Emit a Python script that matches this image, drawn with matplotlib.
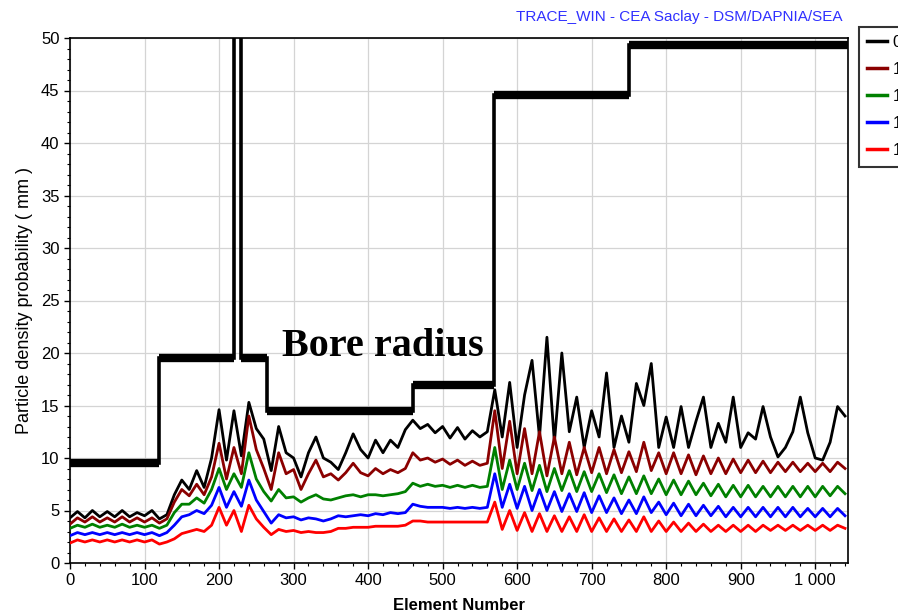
import numpy as np
import matplotlib
matplotlib.use("Agg")
import matplotlib.pyplot as plt
from matplotlib.ticker import MultipleLocator, FuncFormatter

plt.rcParams['font.family'] = ['Liberation Sans', 'DejaVu Sans']

# ---------------- data ----------------
elements = np.arange(0, 1041, 10)

black = [4.3, 4.9, 4.3, 5.0, 4.4, 4.9, 4.4, 5.0, 4.4, 4.8, 4.5, 5.0,
         4.2, 4.6, 6.5, 7.9, 7.0, 8.8, 7.2, 10.0, 14.6, 9.8, 14.5, 10.2,
         15.3, 12.8, 11.8, 8.8, 13.0, 10.5, 10.0, 8.2, 10.5, 12.0, 10.0, 9.6,
         8.9, 10.5, 12.3, 10.8, 10.0, 11.7, 10.5, 11.7, 11.0, 12.7, 13.6, 12.8,
         13.2, 12.4, 13.0, 11.9, 12.9, 11.8, 12.6, 12.0, 12.5, 16.5, 12.0, 17.2,
         11.0, 16.0, 19.3, 12.0, 21.5, 11.5, 20.0, 12.5, 15.8, 11.0, 14.5, 12.0,
         18.1, 11.0, 14.0, 11.5, 17.1, 15.0, 19.0, 11.0, 13.9, 11.0, 14.9, 11.0,
         13.5, 15.8, 11.0, 13.3, 11.5, 15.8, 11.0, 12.4, 11.8, 14.9, 12.0, 10.1,
         11.0, 12.5, 15.8, 12.4, 10.0, 9.8, 11.5, 14.9, 14.0]

darkred = [3.7, 4.3, 3.9, 4.4, 3.9, 4.3, 3.9, 4.4, 3.9, 4.3, 3.9, 4.3,
           3.8, 4.2, 5.8, 7.0, 6.4, 7.5, 6.5, 8.2, 11.4, 8.0, 11.0, 8.5,
           14.0, 10.8, 9.0, 7.0, 10.5, 8.5, 8.9, 7.0, 8.5, 9.8, 8.2, 8.5,
           7.9, 8.6, 9.5, 8.6, 8.3, 9.0, 8.5, 8.9, 8.6, 9.0, 10.5, 9.8,
           10.0, 9.6, 9.9, 9.4, 9.8, 9.3, 9.7, 9.3, 9.5, 14.5, 9.0, 13.5,
           8.5, 12.8, 8.5, 12.5, 8.3, 12.0, 8.5, 11.5, 8.4, 11.0, 8.6, 11.0,
           8.5, 10.8, 8.6, 10.6, 8.7, 11.5, 8.8, 10.5, 8.5, 10.5, 8.5, 10.3,
           8.4, 10.2, 8.5, 10.0, 8.5, 9.9, 8.6, 9.8, 8.6, 9.7, 8.6, 9.6,
           8.7, 9.6, 8.7, 9.5, 8.7, 9.5, 8.7, 9.6, 9.0]

green = [3.3, 3.6, 3.4, 3.7, 3.4, 3.6, 3.4, 3.7, 3.4, 3.6, 3.4, 3.6,
         3.3, 3.6, 4.8, 5.6, 5.6, 6.2, 5.7, 7.0, 9.0, 7.0, 8.5, 7.2,
         10.5, 8.0, 6.8, 5.9, 7.0, 6.2, 6.3, 5.8, 6.2, 6.5, 6.1, 6.0,
         6.2, 6.4, 6.5, 6.3, 6.5, 6.5, 6.4, 6.5, 6.6, 6.8, 7.6, 7.3,
         7.5, 7.3, 7.4, 7.2, 7.4, 7.2, 7.4, 7.2, 7.3, 11.0, 7.0, 9.8,
         7.0, 9.5, 6.9, 9.3, 6.8, 9.0, 6.9, 8.8, 6.8, 8.7, 6.8, 8.5,
         6.7, 8.4, 6.6, 8.2, 6.6, 8.3, 6.6, 8.0, 6.5, 7.9, 6.5, 7.8,
         6.5, 7.6, 6.4, 7.5, 6.3, 7.4, 6.3, 7.4, 6.3, 7.3, 6.3, 7.3,
         6.3, 7.3, 6.3, 7.3, 6.3, 7.3, 6.4, 7.3, 6.6]

blue = [2.6, 2.9, 2.7, 2.9, 2.7, 2.9, 2.7, 2.9, 2.7, 2.9, 2.7, 2.9,
        2.6, 2.9, 3.6, 4.4, 4.6, 5.0, 4.7, 5.5, 7.2, 5.3, 6.8, 5.4,
        7.9, 6.0, 4.9, 3.8, 4.6, 4.3, 4.4, 4.1, 4.3, 4.2, 4.0, 4.2,
        4.5, 4.4, 4.5, 4.6, 4.5, 4.7, 4.6, 4.8, 4.7, 4.8, 5.6, 5.4,
        5.3, 5.3, 5.3, 5.2, 5.3, 5.2, 5.3, 5.2, 5.3, 8.5, 5.3, 7.5,
        5.2, 7.3, 5.0, 7.0, 5.0, 6.8, 4.9, 6.6, 4.9, 6.7, 4.8, 6.4,
        4.8, 6.2, 4.7, 6.0, 4.7, 6.3, 4.8, 5.8, 4.6, 5.7, 4.5, 5.6,
        4.5, 5.5, 4.5, 5.4, 4.4, 5.3, 4.4, 5.3, 4.4, 5.3, 4.4, 5.3,
        4.4, 5.3, 4.4, 5.2, 4.4, 5.2, 4.4, 5.2, 4.5]

red = [1.9, 2.2, 2.0, 2.2, 2.0, 2.2, 2.0, 2.2, 2.0, 2.2, 2.0, 2.2,
       1.8, 2.0, 2.3, 2.8, 3.0, 3.2, 3.0, 3.6, 5.3, 3.6, 5.0, 3.0,
       5.5, 4.2, 3.4, 2.7, 3.2, 3.0, 3.1, 2.9, 3.0, 2.9, 2.9, 3.0,
       3.3, 3.3, 3.4, 3.4, 3.4, 3.5, 3.5, 3.5, 3.5, 3.6, 4.0, 4.0,
       3.9, 3.9, 3.9, 3.9, 3.9, 3.9, 3.9, 3.9, 3.9, 5.8, 3.2, 5.0,
       3.1, 4.8, 3.0, 4.7, 3.0, 4.5, 3.0, 4.4, 3.0, 4.6, 3.0, 4.3,
       3.0, 4.2, 3.0, 4.1, 3.0, 4.4, 3.0, 4.0, 3.0, 3.9, 3.0, 3.8,
       3.0, 3.7, 3.0, 3.6, 3.0, 3.6, 3.0, 3.6, 3.0, 3.6, 3.1, 3.6,
       3.1, 3.6, 3.1, 3.6, 3.1, 3.6, 3.1, 3.6, 3.3]

series_labels = ["0.1", "1e-2", "1e-3", "1e-4", "1e-5"]
series_colors = ["#000000", "#8b0000", "#008000", "#0000ff", "#ff0000"]

bore_edges = [0, 120, 220, 230, 264, 460, 569, 750, 1044]
bore_values = [9.5, 19.5, 80.0, 19.5, 14.5, 17.0, 44.6, 49.3]

x_ticks = [0, 100, 200, 300, 400, 500, 600, 700, 800, 900, 1000]
y_ticks = [0, 5, 10, 15, 20, 25, 30, 35, 40, 45, 50]

# ---------------- figure ----------------
fig = plt.figure(figsize=(8.98, 6.13), dpi=100)
ax = fig.add_axes([70/898, 1-563/613, 778/898, 525/613])

ax.set_xlim(0, 1044)
ax.set_ylim(0, 50)
ax.set_xticks(x_ticks)
ax.set_yticks(y_ticks)
ax.xaxis.set_minor_locator(MultipleLocator(20))
ax.yaxis.set_minor_locator(MultipleLocator(1))
ax.xaxis.set_major_formatter(FuncFormatter(lambda v, p: f"{int(v):,}".replace(",", " ")))
ax.grid(True, which='major', color='#d4d4d4', lw=0.9)
ax.set_axisbelow(True)
ax.tick_params(which='major', direction='out', length=4, labelsize=12, width=1)
ax.tick_params(which='minor', direction='out', length=2, width=0.8)
for s in ax.spines.values():
    s.set_linewidth(1.2)

# bore radius (thin verticals, thick horizontals)
ax.stairs(bore_values, bore_edges, color='black', lw=2.6, baseline=None, zorder=5)
ax.hlines(bore_values, bore_edges[:-1], bore_edges[1:], color='black', lw=6, zorder=5)

series = [black, darkred, green, blue, red]
for vals, lab, col in zip(series, series_labels, series_colors):
    ax.plot(elements, vals, color=col, lw=2.0, label=lab, zorder=3)

ax.text(284, 20.6, "Bore radius", family=['Liberation Serif', 'DejaVu Serif'],
        fontweight='bold', fontsize=29, ha='left', va='center', zorder=6)

ax.set_xlabel("Element Number", fontsize=12, fontweight='bold', labelpad=7)
ax.set_ylabel("Particle density probability ( mm )", fontsize=13, labelpad=6)

fig.text(843/898, 1-17/613, "TRACE_WIN - CEA Saclay - DSM/DAPNIA/SEA",
         color='#3030ff', fontsize=11, ha='right', va='center')

leg = fig.legend(loc='upper left', bbox_to_anchor=(859/898, 1-27/613),
                 fontsize=12, frameon=True, fancybox=False, edgecolor='black',
                 handlelength=1.2, handletextpad=0.3, labelspacing=0.72,
                 borderpad=0.5, borderaxespad=0)
leg.get_frame().set_linewidth(1.5)
for line in leg.get_lines():
    line.set_linewidth(2.5)

fig.savefig("out.png", dpi=100)
